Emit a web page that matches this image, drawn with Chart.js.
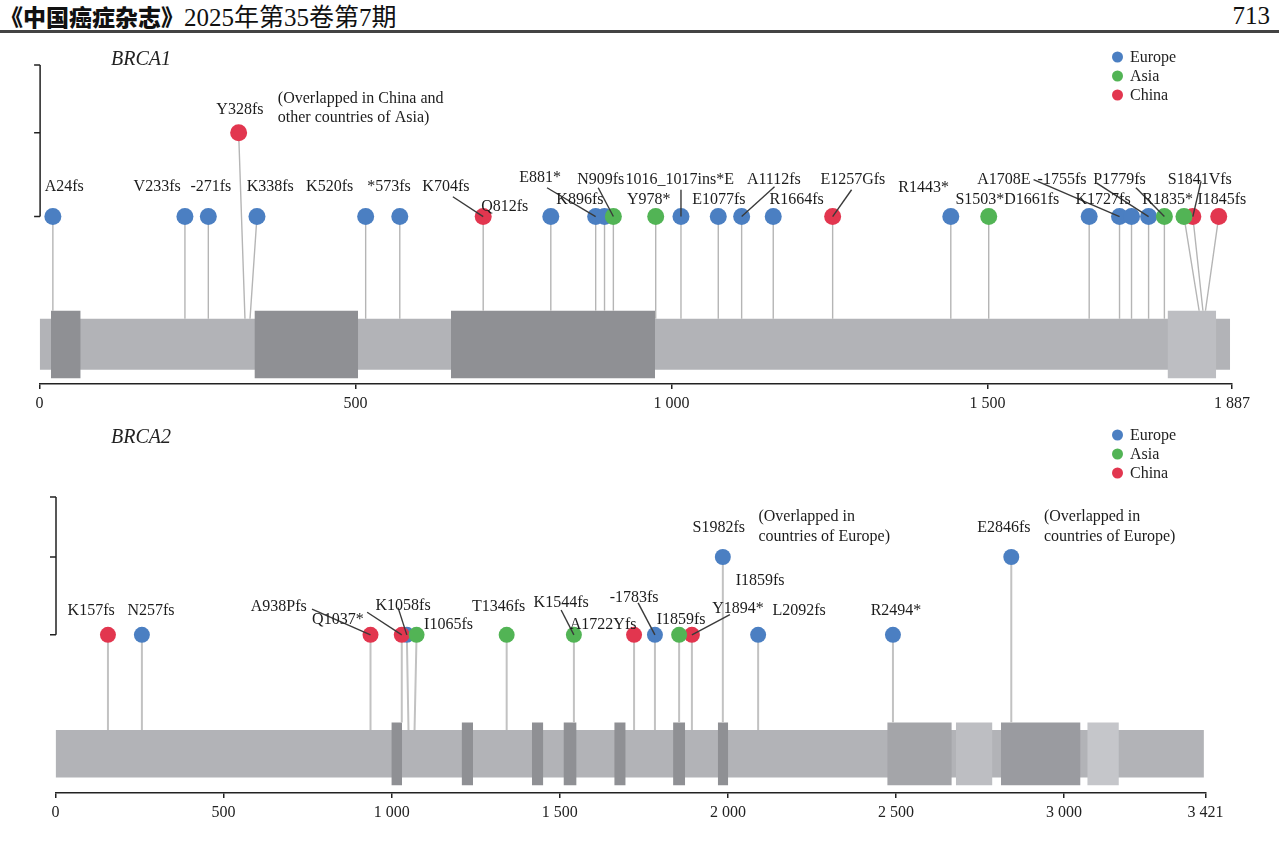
<!DOCTYPE html>
<html>
<head>
<meta charset="utf-8">
<script src="https://cdn.jsdelivr.net/npm/chart.js@4.4.1/dist/chart.umd.min.js"></script>
<style>
  body { margin: 0; width: 1279px; height: 849px; background: #fff; position: relative; overflow: hidden; }
  #head { position: absolute; left: 0; top: 2px; font-size: 25px; line-height: 28px; white-space: nowrap; color: #111; }
  #head .jn { font-family: "Noto Sans CJK SC", sans-serif; font-weight: 900; font-size: 23px; }
  #head .iss { font-family: "Liberation Serif", "Noto Sans CJK SC", serif; }
  #page { position: absolute; right: 9px; top: 2px; font: 25px/28px "Liberation Serif", serif; color: #111; }
  #rule { position: absolute; left: 0; top: 30px; width: 1279px; height: 3px; background: #444; }
  canvas { position: absolute; left: 0; }
</style>
</head>
<body>
<div id="head"><span class="jn">《中国癌症杂志》</span><span class="iss">2025年第35卷第7期</span></div>
<div id="page">713</div>
<div id="rule"></div>
<canvas id="brca1" width="1279" height="375" style="top:40px"></canvas>
<canvas id="brca2" width="1279" height="409" style="top:415px"></canvas>
<script>
const regions = ['Europe', 'Asia', 'China'];
const regionColors = { Europe: '#4b7fc2', Asia: '#52b455', China: '#e2364f' };

// ---- BRCA1 ----
const brca1Length = 1887;
const brca1Ticks = [0, 500, 1000, 1500, 1887];
const brca1Names = ['A24fs', 'V233fs', '-271fs', 'Y328fs', 'K338fs', 'K520fs', '*573fs', 'K704fs', 'Q812fs', 'E881*',
  'K896fs', 'N909fs', 'Y978*', '1016_1017ins*E', 'E1077fs', 'A1112fs', 'R1664fs', 'E1257Gfs', 'R1443*', 'S1503*',
  'D1661fs', 'A1708E', 'K1727fs', '-1755fs', 'P1779fs', 'R1835*', 'S1841Vfs', 'I1845fs'];
const brca1Pos = [21, 230, 267, 325, 333, 516, 570, 702, 809, 880, 894, 908, 975, 1015, 1074, 1111, 1161, 1255, 1442, 1502,
  1661, 1709, 1728, 1755, 1780, 1835, 1841, 1845];
// where the dot sits when crowded dots are spread apart
const brca1DotPos = [21, 230, 267, 315, 344, 516, 570, 702, 809, 880, 894, 908, 975, 1015, 1074, 1111, 1161, 1255, 1442, 1502,
  1661, 1709, 1728, 1755, 1780, 1811, 1825, 1866];
const brca1Count = [1, 1, 1, 2, 1, 1, 1, 1, 1, 1, 1, 1, 1, 1, 1, 1, 1, 1, 1, 1, 1, 1, 1, 1, 1, 1, 1, 1];
const brca1Region = ['Europe', 'Europe', 'Europe', 'China', 'Europe', 'Europe', 'Europe', 'China', 'Europe', 'Europe',
  'Europe', 'Asia', 'Asia', 'Europe', 'Europe', 'Europe', 'Europe', 'China', 'Europe', 'Asia',
  'Europe', 'Europe', 'Europe', 'Europe', 'Asia', 'Asia', 'China', 'China'];
const brca1Domains = [[18, 65], [340, 504], [651, 974], [1785, 1862]];
const brca1DomainShade = ['dark', 'dark', 'dark', 'light'];
// label anchor (aa, count units)
const brca1LabelAt = [[39, 1.356], [186, 1.356], [271, 1.356], [317, 2.28], [365, 1.356], [459, 1.356], [553, 1.356], [643, 1.356], [736, 1.116], [792, 1.46],
  [855, 1.2], [888, 1.44], [964, 1.2], [1013, 1.44], [1075, 1.2], [1162, 1.44], [1198, 1.2], [1287, 1.44], [1399, 1.344], [1488, 1.2],
  [1570, 1.2], [1526, 1.44], [1683, 1.2], [1618, 1.44], [1709, 1.44], [1785, 1.2], [1836, 1.44], [1871, 1.2]];
const brca1Leaders = { 'K704fs': [654, 1.236], 'E881*': [803, 1.344], 'N909fs': [884, 1.344], '1016_1017ins*E': [1015, 1.32],
  'A1112fs': [1163, 1.356], 'E1257Gfs': [1285, 1.32], 'A1708E': [1573, 1.44], '-1755fs': [1673, 1.40],
  'P1779fs': [1735, 1.344], 'S1841Vfs': [1838, 1.42] };
const brca1Notes = [['(Overlapped in China and', 377, 2.41], ['other countries of Asia)', 377, 2.18]];

// ---- BRCA2 ----
const brca2Length = 3421;
const brca2Ticks = [0, 500, 1000, 1500, 2000, 2500, 3000, 3421];
const brca2Names = ['K157fs', 'N257fs', 'A938Pfs', 'Q1037*', 'K1058fs', 'I1065fs', 'T1346fs', 'K1544fs', 'A1722Yfs', '-1783fs',
  'I1859fs', 'Y1894*', 'S1982fs', 'L2092fs', 'R2494*', 'E2846fs'];
const brca2Pos = [156, 257, 937, 1030, 1050, 1068, 1342, 1542, 1721, 1783, 1855, 1893, 1985, 2090, 2491, 2843];
const brca2DotPos = [156, 257, 937, 1030, 1045, 1074, 1342, 1542, 1721, 1783, 1855, 1893, 1985, 2090, 2491, 2843];
const brca2Count = [1, 1, 1, 1, 1, 1, 1, 1, 1, 1, 1, 1, 2, 1, 1, 2];
const brca2Region = ['China', 'Europe', 'China', 'China', 'Europe', 'Asia', 'Asia', 'Asia', 'China', 'Europe',
  'Asia', 'China', 'Europe', 'Europe', 'Europe', 'Europe'];
const brca2Domains = [[999, 1031], [1208, 1242], [1417, 1451], [1511, 1550], [1662, 1696], [1837, 1873], [1970, 2001],
  [2474, 2666], [2678, 2787], [2812, 3049], [3069, 3163]];
const brca2DomainShade = ['dark', 'dark', 'dark', 'dark', 'dark', 'dark', 'dark', 'mid', 'light', 'dark2', 'pale'];
const brca2LabelAt = [[106, 1.31], [284, 1.31], [664, 1.36], [840, 1.19], [1034, 1.37], [1169, 1.13], [1318, 1.36], [1504, 1.41], [1629, 1.13], [1721, 1.47],
  [1861, 1.19], [2030, 1.34], [1973, 2.37], [2212, 1.31], [2500, 1.31], [2821, 2.37]];
const brca2Leaders = { 'A938Pfs': [763, 1.33], 'Q1037*': [927, 1.29], 'K1058fs': [1019, 1.35], 'K1544fs': [1504, 1.32],
  '-1783fs': [1733, 1.41], 'Y1894*': [2006, 1.26] };
const brca2Notes = [['I1859fs', 2096, 1.70, 'center'], ['(Overlapped in', 2091, 2.51], ['countries of Europe)', 2091, 2.26],
  ['(Overlapped in', 2940, 2.51], ['countries of Europe)', 2940, 2.26]];

// track geometry (in the y units of the count axis)
const barTop = -0.22, barBottom = -0.83, domTop = -0.125, domBottom = -0.93;
const shades = { dark: '#8f9094', dark2: '#9a9ba0', mid: '#a4a5a9', light: '#bdbec2', pale: '#c5c6ca' };
const SERIF = '"Liberation Serif", "Times New Roman", serif';

function fmt(v) { return String(v).replace(/\B(?=(\d{3})+(?!\d))/g, ' '); }

function buildChart(id, g) {
  const surface = p => g.domains.some(([a, b]) => p >= a && p <= b) ? domTop : barTop;

  const stems = [];
  g.names.forEach((n, i) => {
    stems.push({ x: g.dotPos[i], y: g.count[i] }, { x: g.pos[i], y: surface(g.pos[i]) }, { x: g.pos[i], y: null });
  });

  const datasets = [];
  ['Asia', 'China', 'Europe'].forEach(r => {
    datasets.push({
      type: 'scatter', label: r, region: true, order: 1,
      data: g.names.map((n, i) => ({ x: g.dotPos[i], y: g.count[i], r: g.region[i] })).filter(d => d.r === r),
      backgroundColor: regionColors[r], borderWidth: 0, pointRadius: g.dotR, pointHoverRadius: g.dotR
    });
  });
  datasets.push({
    type: 'line', label: 'stems', order: 5, data: stems, spanGaps: false,
    borderColor: g.stemColor, borderWidth: g.stemWidth, pointRadius: 0, tension: 0, fill: false
  });
  g.domains.forEach(([a, b], i) => {
    datasets.push({
      type: 'line', label: 'domain', order: 8, data: [{ x: a, y: domTop }, { x: b, y: domTop }],
      fill: { value: domBottom }, backgroundColor: shades[g.shade[i]], borderColor: 'rgba(0,0,0,0)', borderWidth: 0, pointRadius: 0
    });
  });
  datasets.push({
    type: 'line', label: 'protein', order: 10, data: [{ x: 0, y: barTop }, { x: g.barEnd, y: barTop }],
    fill: { value: barBottom }, backgroundColor: '#b2b3b7', borderColor: 'rgba(0,0,0,0)', borderWidth: 0, pointRadius: 0
  });

  const decor = {
    id: 'decor_' + id,
    afterDatasetsDraw(chart) {
      const { ctx, chartArea, scales: { x, y } } = chart;
      ctx.save();
      // leader lines
      ctx.strokeStyle = '#3a3a3a';
      ctx.lineWidth = 1.4;
      g.names.forEach((n, i) => {
        const from = g.leaders[n];
        if (!from) return;
        ctx.beginPath();
        ctx.moveTo(x.getPixelForValue(from[0]), y.getPixelForValue(from[1]));
        ctx.lineTo(x.getPixelForValue(g.dotPos[i]), y.getPixelForValue(g.count[i]));
        ctx.stroke();
      });
      // mutation labels
      ctx.font = '16px ' + SERIF;
      ctx.fillStyle = '#1c1c1c';
      ctx.textBaseline = 'middle';
      ctx.textAlign = 'center';
      g.names.forEach((n, i) => {
        ctx.fillText(n, x.getPixelForValue(g.labelAt[i][0]), y.getPixelForValue(g.labelAt[i][1]));
      });
      g.notes.forEach(([t, a, v, al]) => {
        ctx.textAlign = al || 'left';
        ctx.fillText(t, x.getPixelForValue(a), y.getPixelForValue(v));
      });
      // count bracket
      const bx = chartArea.left + 0.5;
      const yTicks = [1, 2, g.yMax].map(v => y.getPixelForValue(v));
      ctx.strokeStyle = '#222';
      ctx.lineWidth = 1.5;
      ctx.beginPath();
      ctx.moveTo(bx, yTicks[0]);
      ctx.lineTo(bx, yTicks[2]);
      yTicks.forEach(py => { ctx.moveTo(bx, py); ctx.lineTo(bx - 6, py); });
      ctx.stroke();
      // gene title
      ctx.font = 'italic 20px ' + SERIF;
      ctx.textAlign = 'left';
      ctx.fillStyle = '#222';
      ctx.fillText(g.title, 111, g.titleY);
      // legend
      ctx.font = '16px ' + SERIF;
      regions.forEach((r, k) => {
        const ly = g.legendY + k * 19;
        ctx.fillStyle = chart.data.datasets.find(d => d.region && d.label === r).backgroundColor;
        ctx.beginPath();
        ctx.arc(1117.5, ly, 5.5, 0, Math.PI * 2);
        ctx.fill();
        ctx.fillStyle = '#222';
        ctx.fillText(r, 1130, ly + 1);
      });
      ctx.restore();
    }
  };

  return new Chart(document.getElementById(id), {
    type: 'scatter',
    data: { datasets },
    plugins: [decor],
    options: {
      responsive: false,
      animation: false,
      devicePixelRatio: 1,
      events: [],
      layout: { padding: { left: g.pad[0], top: g.pad[1], right: g.pad[2], bottom: 0 } },
      plugins: { legend: { display: false }, tooltip: { enabled: false } },
      scales: {
        x: {
          type: 'linear', min: 0, max: g.length,
          afterBuildTicks: s => { s.ticks = g.ticks.map(v => ({ value: v })); },
          afterFit: s => { s.height = 31; },
          ticks: { autoSkip: false, maxRotation: 0, padding: 5, color: '#222', font: { family: SERIF, size: 16 }, callback: v => fmt(v) },
          grid: { drawOnChartArea: false, drawTicks: true, tickLength: 5, color: '#222', lineWidth: 1.5 },
          border: { display: true, color: '#222', width: 1.5 }
        },
        y: { type: 'linear', display: false, min: g.yMin, max: g.yMax }
      }
    }
  });
}

buildChart('brca1', {
  title: 'BRCA1', titleY: 20, legendY: 17,
  names: brca1Names, pos: brca1Pos, dotPos: brca1DotPos, count: brca1Count, region: brca1Region,
  domains: brca1Domains, shade: brca1DomainShade, labelAt: brca1LabelAt, leaders: brca1Leaders, notes: brca1Notes,
  length: brca1Length, ticks: brca1Ticks, barEnd: 1884,
  yMin: -1.0, yMax: 2.81, pad: [39.6, 25, 47], dotR: 8.5, stemColor: '#b5b5b5', stemWidth: 1.4
});

buildChart('brca2', {
  title: 'BRCA2', titleY: 23, legendY: 20,
  names: brca2Names, pos: brca2Pos, dotPos: brca2DotPos, count: brca2Count, region: brca2Region,
  domains: brca2Domains, shade: brca2DomainShade, labelAt: brca2LabelAt, leaders: brca2Leaders, notes: brca2Notes,
  length: brca2Length, ticks: brca2Ticks, barEnd: 3416,
  yMin: -1.03, yMax: 2.77, pad: [55.5, 82, 73.4], dotR: 8, stemColor: '#c2c2c2', stemWidth: 2
});
</script>
</body>
</html>
